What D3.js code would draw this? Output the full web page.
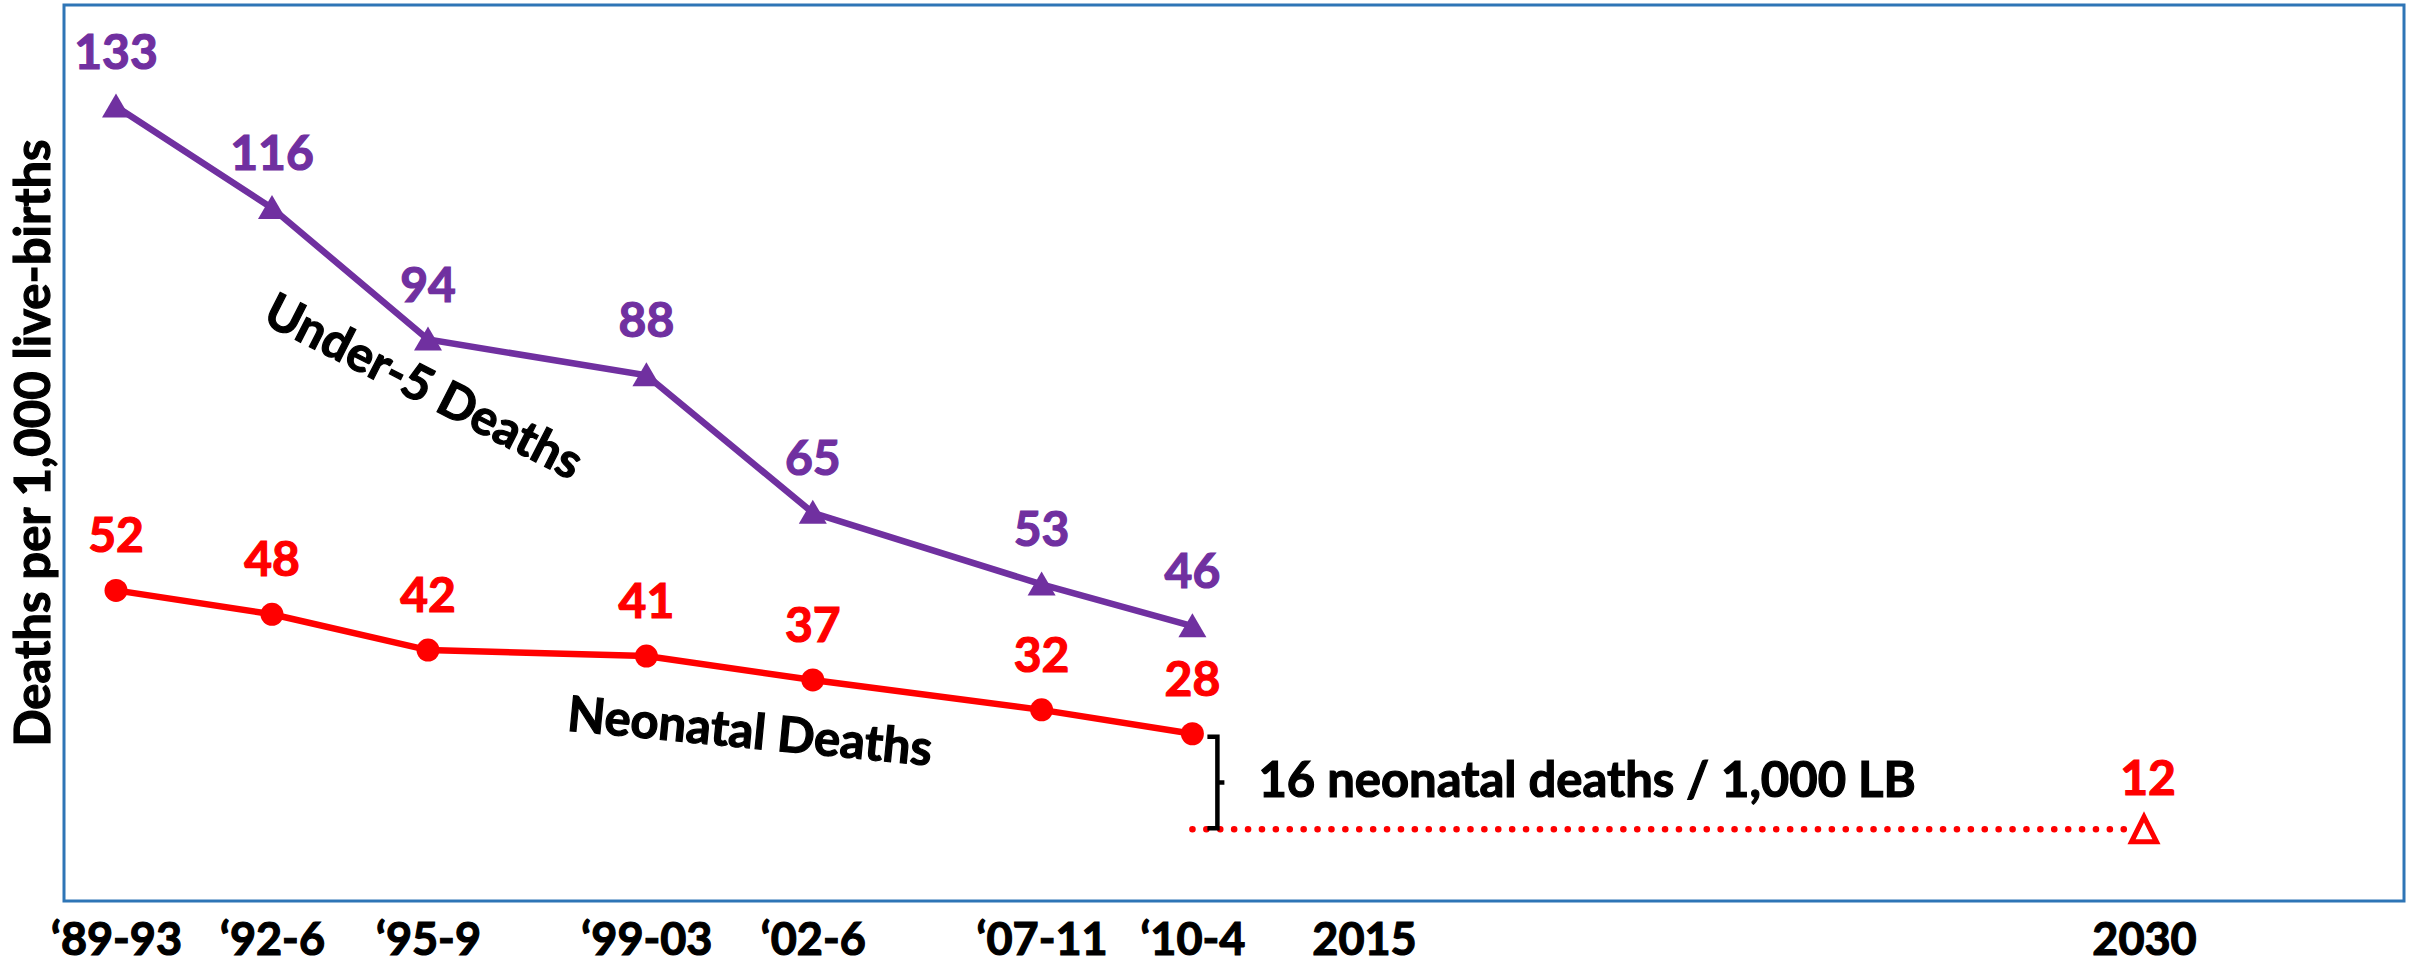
<!DOCTYPE html>
<html>
<head>
<meta charset="utf-8">
<script src="https://cdn.jsdelivr.net/npm/d3@7"></script>
<style>
  body { margin: 0; background: #fff; }
  text { font-family: Lato, "Open Sans", sans-serif; font-weight: bold; paint-order: stroke; stroke-width: 1.2px; }
</style>
</head>
<body>
<div id="chart"></div>
<script>
// survey periods and where they sit on the time axis
var periods = ["\u201889-93", "\u201892-6", "\u201895-9", "\u201899-03", "\u201802-6", "\u201807-11", "\u201810-4"];
var periodPos = [1991, 1994, 1997, 2001.2, 2004.4, 2008.8, 2011.7];
var under5 = [133, 116, 94, 88, 65, 53, 46];
var neonatal = [52, 48, 42, 41, 37, 32, 28];
var targetYears = ["2015", "2030"];
var targetPos = [2015, 2030];
var target2030 = 12;

var width = 2415, height = 966;
var plot = {left: 64, top: 5, right: 2404, bottom: 901};

var purple = "#7030A0", red = "#FF0000", frame = "#2E75B6";

var x = d3.scaleLinear().domain([1990, 2035]).range([plot.left, plot.right]);
var y = d3.scaleLinear().domain([0, 150]).range([plot.bottom, plot.top]);

var svg = d3.select("#chart")
  .append("svg")
    .attr("width", width)
    .attr("height", height);

// plot frame
svg.append("rect")
  .attr("x", plot.left)
  .attr("y", plot.top)
  .attr("width", plot.right - plot.left)
  .attr("height", plot.bottom - plot.top)
  .style("fill", "none")
  .style("stroke", frame)
  .style("stroke-width", 3);

// x axis: only labels, no line or ticks
var allPos = periodPos.concat(targetPos);
var allLabels = periods.concat(targetYears);
var xAxis = d3.axisBottom(x)
  .tickValues(allPos)
  .tickSize(0)
  .tickFormat(function(d, i) { return allLabels[i]; });

var gx = svg.append("g")
  .attr("transform", "translate(0," + plot.bottom + ")")
  .call(xAxis);
gx.select(".domain").remove();
gx.selectAll("text")
  .attr("y", 54)
  .attr("dy", 0)
  .style("font-family", "Lato, sans-serif")
  .style("font-weight", "bold")
  .style("font-size", "45px")
  .style("fill", "#000")
  .style("stroke", "#000");

// y title
svg.append("text")
  .attr("transform", "translate(50," + 443 + ") rotate(-90)")
  .attr("text-anchor", "middle")
  .style("font-size", "49px")
  .style("stroke", "#000")
  .text("Deaths per 1,000 live-births");

var line = d3.line()
  .x(function(d, i) { return x(periodPos[i]); })
  .y(function(d) { return y(d); });

// target dotted line from last neonatal value to 2030
svg.append("line")
  .attr("x1", x(periodPos[periodPos.length - 1]))
  .attr("x2", x(targetPos[1]) - 14)
  .attr("y1", y(target2030))
  .attr("y2", y(target2030))
  .style("stroke", red)
  .style("stroke-width", 6.5)
  .style("stroke-linecap", "round")
  .style("stroke-dasharray", "0.1 13.8");

svg.append("path")
  .datum(under5)
  .attr("d", line)
  .style("fill", "none")
  .style("stroke", purple)
  .style("stroke-width", 6.5);

svg.append("path")
  .datum(neonatal)
  .attr("d", line)
  .style("fill", "none")
  .style("stroke", red)
  .style("stroke-width", 6.5);

// markers
svg.selectAll(".tri")
  .data(under5)
  .enter()
  .append("path")
    .attr("class", "tri")
    .attr("transform", function(d, i) { return "translate(" + x(periodPos[i]) + "," + y(d) + ")"; })
    .attr("d", "M0,-13 L14,11 L-14,11 Z")
    .style("fill", purple);

svg.selectAll(".dot")
  .data(neonatal)
  .enter()
  .append("circle")
    .attr("class", "dot")
    .attr("cx", function(d, i) { return x(periodPos[i]); })
    .attr("cy", function(d) { return y(d); })
    .attr("r", 11.5)
    .style("fill", red);

// hollow target triangle
svg.append("path")
  .attr("transform", "translate(" + x(targetPos[1]) + "," + y(target2030) + ")")
  .attr("d", "M0,-12.5 L12.5,12.5 L-12.5,12.5 Z")
  .style("fill", "#fff")
  .style("stroke", red)
  .style("stroke-width", 5)
  .style("stroke-linejoin", "miter");

// value labels
svg.selectAll(".u5lab")
  .data(under5)
  .enter()
  .append("text")
    .attr("class", "u5lab")
    .attr("x", function(d, i) { return x(periodPos[i]); })
    .attr("y", function(d) { return y(d) - 38; })
    .attr("text-anchor", "middle")
    .style("font-size", "48px")
    .style("fill", purple)
    .style("stroke", purple)
    .text(function(d) { return d; });

svg.selectAll(".nnlab")
  .data(neonatal)
  .enter()
  .append("text")
    .attr("class", "nnlab")
    .attr("x", function(d, i) { return x(periodPos[i]); })
    .attr("y", function(d) { return y(d) - 38; })
    .attr("text-anchor", "middle")
    .style("font-size", "48px")
    .style("fill", red)
    .style("stroke", red)
    .text(function(d) { return d; });

svg.append("text")
  .attr("x", x(targetPos[1]) + 4)
  .attr("y", y(target2030) - 34)
  .attr("text-anchor", "middle")
  .style("font-size", "48px")
  .style("fill", red)
  .style("stroke", red)
  .text(target2030);

// bracket showing the gap between 28 and 12
var bx = x(periodPos[periodPos.length - 1]) + 25;
var bTop = y(neonatal[neonatal.length - 1]) + 3, bBot = y(target2030) - 1;
var bMid = (bTop + bBot) / 2;
svg.append("path")
  .attr("d", "M" + (bx - 10) + "," + bTop + " H" + bx + " V" + bBot + " H" + (bx - 10) +
             " M" + bx + "," + bMid + " H" + (bx + 7))
  .style("fill", "none")
  .style("stroke", "#000")
  .style("stroke-width", 4.5);

svg.append("text")
  .attr("x", bx + 41)
  .attr("y", 797)
  .style("font-size", "49px")
  .style("stroke", "#000")
  .text("16 neonatal deaths / 1,000 LB");

// series names
svg.append("text")
  .attr("transform", "translate(424,386) rotate(27)")
  .attr("text-anchor", "middle")
  .attr("dy", "0.35em")
  .style("font-size", "49px")
  .style("stroke", "#000")
  .text("Under-5 Deaths");

svg.append("text")
  .attr("transform", "translate(750,731) rotate(5.5)")
  .attr("text-anchor", "middle")
  .attr("dy", "0.35em")
  .style("font-size", "49px")
  .style("stroke", "#000")
  .text("Neonatal Deaths");
</script>
</body>
</html>
